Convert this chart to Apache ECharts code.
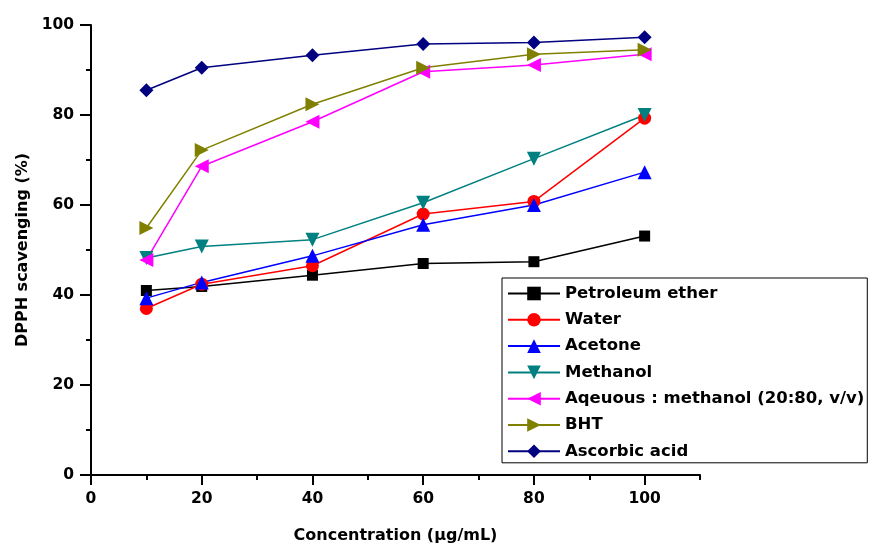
<!DOCTYPE html>
<html>
<head>
<meta charset="utf-8">
<script src="https://cdn.jsdelivr.net/npm/echarts@6/dist/echarts.min.js"></script>
<style>
  html, body { margin: 0; padding: 0; background: #fff; }
  #chart { width: 872px; height: 546px; }
</style>
</head>
<body>
<div id="chart"></div>
<script>
const concentrations = [10, 20, 40, 60, 80, 100]
const seriesNames = ['Petroleum ether', 'Water', 'Acetone', 'Methanol', 'Aqeuous : methanol (20:80, v/v)', 'BHT', 'Ascorbic acid']
const petroleumEther = [41.0, 41.9, 44.4, 47.0, 47.4, 53.1]
const water = [37.0, 42.4, 46.5, 58.0, 60.8, 79.3]
const acetone = [39.3, 42.8, 48.7, 55.6, 60.0, 67.3]
const methanol = [48.2, 50.8, 52.3, 60.5, 70.3, 80.0]
const aqueousMethanol = [47.8, 68.6, 78.5, 89.6, 91.1, 93.5]
const bht = [54.9, 72.2, 82.4, 90.5, 93.5, 94.5]
const ascorbicAcid = [85.5, 90.5, 93.3, 95.8, 96.1, 97.3]
const xMajorTicks = [0, 20, 40, 60, 80, 100]

const values = [petroleumEther, water, acetone, methanol, aqueousMethanol, bht, ascorbicAcid]
const colors = ['#000000', '#ff0000', '#0000ff', '#008080', '#ff00ff', '#808000', '#000080']
const symbols = ['rect', 'circle', 'triangle', 'triangle', 'triangle', 'triangle', 'diamond']
const rotations = [0, 0, 0, 180, 90, -90, 0]
const sizes = [11, 13, 14, 14, 14, 14, 14]

const font = '"DejaVu Sans", Verdana, sans-serif'
const boldText = { fontFamily: font, fontSize: 16, fontWeight: 'bold', color: '#000' }

const chart = echarts.init(document.getElementById('chart'))

chart.setOption({
  backgroundColor: '#ffffff',
  animation: false,
  textStyle: { fontFamily: font },
  grid: { left: 91, right: 172, top: 25, bottom: 71, containLabel: false, outerBoundsMode: 'none' },
  legend: {
    left: 502,
    top: 278,
    orient: 'vertical',
    padding: [7, 3, 3, 5],
    borderColor: '#000',
    borderWidth: 1,
    itemWidth: 52,
    itemHeight: 17,
    itemGap: 9.3,
    textStyle: { ...boldText, fontSize: 16.5 },
    data: seriesNames,
  },
  xAxis: [
    {
      type: 'value',
      min: 0,
      max: 110,
      interval: 10,
      name: 'Concentration (μg/mL)',
      nameLocation: 'middle',
      nameGap: 53,
      nameTextStyle: boldText,
      axisLine: { lineStyle: { color: '#000', width: 2 } },
      axisTick: { length: 5, lineStyle: { color: '#000', width: 2 } },
      axisLabel: {
        ...boldText,
        fontSize: 15.5,
        margin: 16,
        formatter: (v) => (v % 20 === 0 && v <= 100 ? String(v) : ''),
      },
      splitLine: { show: false },
    },
    {
      type: 'value',
      min: 0,
      max: 110,
      position: 'bottom',
      axisLine: { show: false },
      axisTick: { show: true, length: 10, customValues: xMajorTicks, lineStyle: { color: '#000', width: 2 } },
      axisLabel: { show: false },
      splitLine: { show: false },
    },
  ],
  yAxis: {
    type: 'value',
    min: 0,
    max: 100,
    interval: 20,
    name: 'DPPH scavenging (%)',
    nameLocation: 'middle',
    nameGap: 56,
    nameTextStyle: boldText,
    axisLine: { show: true, lineStyle: { color: '#000', width: 2 } },
    axisTick: { length: 11, lineStyle: { color: '#000', width: 2 } },
    minorTick: { show: true, splitNumber: 2, length: 5, lineStyle: { color: '#000', width: 2 } },
    axisLabel: { ...boldText, fontSize: 15.5, margin: 17 },
    splitLine: { show: false },
  },
  series: seriesNames.map((name, i) => ({
    name,
    type: 'line',
    data: concentrations.map((c, j) => [c, values[i][j]]),
    symbol: symbols[i],
    symbolSize: sizes[i],
    symbolRotate: rotations[i],
    showAllSymbol: true,
    color: colors[i],
    lineStyle: { color: colors[i], width: 1.5 },
    itemStyle: { color: colors[i] },
  })),
})
</script>
</body>
</html>
